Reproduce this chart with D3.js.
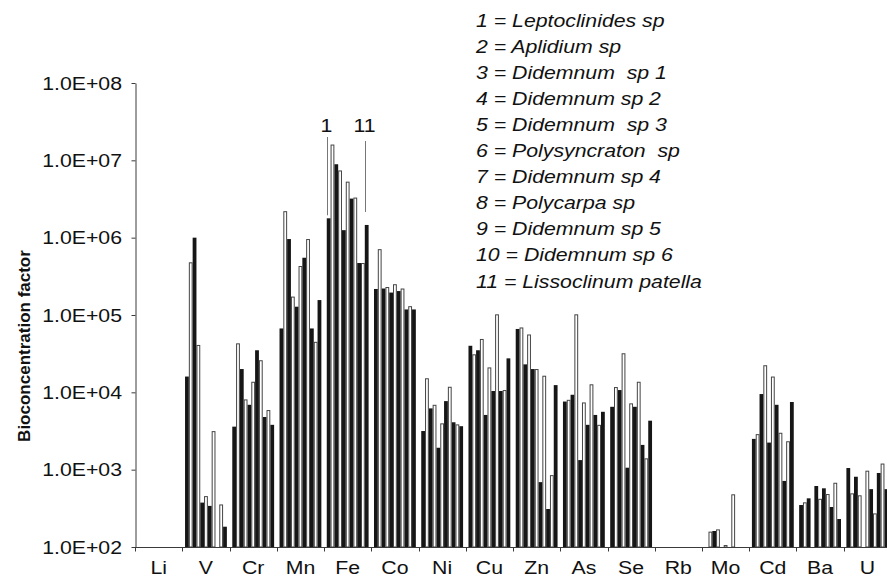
<!DOCTYPE html>
<html>
<head>
<meta charset="utf-8">
<script src="https://cdn.jsdelivr.net/npm/d3@7"></script>
<style>
  body { margin: 0; background: #fff; }
  text { font-family: "Liberation Sans", Arial, Helvetica, sans-serif; fill: #111; }
</style>
</head>
<body>
<div id="the_chart"></div>
<script>
// elements on the x axis
var elements = ["Li", "V", "Cr", "Mn", "Fe", "Co", "Ni", "Cu", "Zn", "As", "Se", "Rb", "Mo", "Cd", "Ba", "U"];

// species, in bar order inside each element
var species = ["Leptoclinides sp", "Aplidium sp", "Didemnum  sp 1", "Didemnum sp 2", "Didemnum  sp 3",
  "Polysyncraton  sp", "Didemnum sp 4", "Polycarpa sp", "Didemnum sp 5", "Didemnum sp 6", "Lissoclinum patella"];

// bioconcentration factor, one value per species (null = no bar)
var bcfLi = [null, null, null, null, null, null, null, null, null, null, null];
var bcfV  = [16000, 480000, 1000000, 41000, 375, 455, 340, 3150, null, 355, 183];
var bcfCr = [3600, 43000, 20000, 8100, 6900, 13700, 35000, 26000, 4800, 5900, 3800];
var bcfMn = [67000, 2200000, 960000, 173000, 128000, 430000, 550000, 960000, 67000, 45000, 156000];
var bcfFe = [1780000, 16000000, 8900000, 7400000, 1250000, 5300000, 3200000, 3300000, 470000, 470000, 1460000];
var bcfCo = [217000, 710000, 220000, 230000, 195000, 250000, 204000, 220000, 118000, 130000, 118000];
var bcfNi = [3160, 15200, 6200, 6900, 1920, 3970, 7700, 11800, 4100, 3850, 3650];
var bcfCu = [40000, 31000, 35000, 49000, 5100, 21000, 10400, 102000, 10400, 10700, 27500];
var bcfZn = [66000, 69000, 23000, 56000, 20000, 20000, 690, 16400, 310, 850, 12400];
var bcfAs = [7600, 8000, 9300, 102000, 1330, 7400, 3800, 12700, 5100, 3800, 5600];
var bcfSe = [6500, 11700, 10700, 32000, 1060, 7200, 6500, 13700, 2090, 1400, 4300];
var bcfRb = [null, null, null, null, null, null, null, null, null, null, null];
var bcfMo = [null, 158, 161, 169, null, 106, null, 480, null, null, null];
var bcfCd = [2500, 2880, 9500, 22400, 2240, 16000, 6900, 3000, 715, 2330, 7500];
var bcfBa = [349, 378, 426, null, 615, 420, 574, 484, 329, 677, 230];
var bcfU  = [1050, 494, 810, 466, null, 970, 560, 272, 906, 1200, 560];

var bcf = [bcfLi, bcfV, bcfCr, bcfMn, bcfFe, bcfCo, bcfNi, bcfCu, bcfZn, bcfAs, bcfSe, bcfRb, bcfMo, bcfCd, bcfBa, bcfU];

var yTicks = [1e2, 1e3, 1e4, 1e5, 1e6, 1e7, 1e8];

var w = 887;
var h = 577;
var left = 135.1;
var catW = 47.24;
var SX = 1.15; // glyphs in the picture are a bit wider than tall
var axisColor = "#3a3a3a";

var svg = d3.select("#the_chart")
  .append("svg")
  .attr("width", w)
  .attr("height", h);

var yscale = d3.scaleLog()
  .domain([1e2, 1e8])
  .range([547, 83]);

var x0 = d3.scaleBand()
  .domain(elements)
  .range([left, left + catW * elements.length])
  .padding(0);

var x1 = d3.scaleBand()
  .domain(d3.range(species.length))
  .range([2.7, catW - 2.7])
  .padding(0);

// flatten into bars
var bars = [];
elements.forEach(function (el, i) {
  bcf[i].forEach(function (v, j) {
    if (v != null) bars.push({ el: el, sp: j, v: v });
  });
});

var bw = x1.bandwidth();

// black bars (odd species numbers)
svg.selectAll("rect.dark")
  .data(bars.filter(function (d) { return d.sp % 2 == 0; }))
  .enter().append("rect")
  .attr("class", "dark")
  .attr("x", function (d) { return x0(d.el) + x1(d.sp); })
  .attr("y", function (d) { return yscale(d.v); })
  .attr("width", bw)
  .attr("height", function (d) { return yscale(1e2) - yscale(d.v); })
  .attr("fill", "#161616");

// white bars (even species numbers)
svg.selectAll("rect.light")
  .data(bars.filter(function (d) { return d.sp % 2 == 1; }))
  .enter().append("rect")
  .attr("class", "light")
  .attr("x", function (d) { return x0(d.el) + x1(d.sp) + 0.5; })
  .attr("y", function (d) { return yscale(d.v) + 0.5; })
  .attr("width", bw - 1)
  .attr("height", function (d) { return Math.max(0, yscale(1e2) - yscale(d.v) - 0.5); })
  .attr("fill", "#fff")
  .attr("stroke", "#444")
  .attr("stroke-width", 1);

// y axis
var yaxis = d3.axisLeft(yscale)
  .tickValues(yTicks)
  .tickSize(4)
  .tickSizeOuter(0)
  .tickFormat("");

svg.append("g")
  .attr("class", "y axis")
  .attr("transform", "translate(135.5,0)")
  .call(yaxis)
  .call(function (g) {
    g.select(".domain").attr("stroke", axisColor);
    g.selectAll(".tick line").attr("stroke", axisColor);
  });

svg.selectAll("text.ylab")
  .data(yTicks)
  .enter().append("text")
  .attr("class", "ylab")
  .attr("transform", function (d) { return "translate(122," + (yscale(d) + 6.7) + ") scale(" + SX + ",1)"; })
  .attr("text-anchor", "end")
  .style("font-size", "18.5px")
  .text(function (d) {
    var e = Math.round(Math.log10(d));
    return "1.0E+" + (e < 10 ? "0" : "") + e;
  });

// x axis: baseline with ticks at the category boundaries
svg.append("line")
  .attr("x1", left)
  .attr("x2", w)
  .attr("y1", yscale(1e2) + 0.5)
  .attr("y2", yscale(1e2) + 0.5)
  .attr("stroke", axisColor);

svg.selectAll("line.xtick")
  .data(elements)
  .enter().append("line")
  .attr("class", "xtick")
  .attr("x1", function (d) { return Math.round(x0(d)) + 0.5; })
  .attr("x2", function (d) { return Math.round(x0(d)) + 0.5; })
  .attr("y1", yscale(1e2))
  .attr("y2", yscale(1e2) + 4.5)
  .attr("stroke", axisColor);

svg.selectAll("text.xlab")
  .data(elements)
  .enter().append("text")
  .attr("class", "xlab")
  .attr("transform", function (d) { return "translate(" + (x0(d) + x0.bandwidth() / 2) + ",574) scale(" + SX + ",1)"; })
  .attr("text-anchor", "middle")
  .style("font-size", "18.5px")
  .text(function (d) { return d; });

// axis title
svg.append("text")
  .attr("transform", "translate(30,346) rotate(-90)")
  .attr("text-anchor", "middle")
  .style("font-size", "17px")
  .style("font-weight", "bold")
  .text("Bioconcentration factor");

// legend
svg.selectAll("text.leg")
  .data(species)
  .enter().append("text")
  .attr("class", "leg")
  .attr("transform", function (d, i) { return "translate(476," + (26.5 + i * 26.1) + ") scale(" + SX + ",1)"; })
  .style("font-size", "18.5px")
  .style("font-style", "italic")
  .style("white-space", "pre")
  .text(function (d, i) { return (i + 1) + " = " + d; });

// markers for species 1 and 11 on Fe
var notes = [
  { sp: 0, label: "1", top: 137, gap: 3 },
  { sp: 10, label: "11", top: 141, gap: 13 }
];
var feIdx = elements.indexOf("Fe");

notes.forEach(function (n) {
  var xc = Math.round(x0("Fe") + x1(n.sp)) + 0.5;
  svg.append("line")
    .attr("x1", xc).attr("x2", xc)
    .attr("y1", n.top)
    .attr("y2", yscale(bcf[feIdx][n.sp]) - n.gap)
    .attr("stroke", "#777")
    .attr("stroke-width", 1);
  svg.append("text")
    .attr("transform", "translate(" + (xc - 1) + ",131.5) scale(" + SX + ",1)")
    .attr("text-anchor", "middle")
    .style("font-size", "18.5px")
    .text(n.label);
});
</script>
</body>
</html>
